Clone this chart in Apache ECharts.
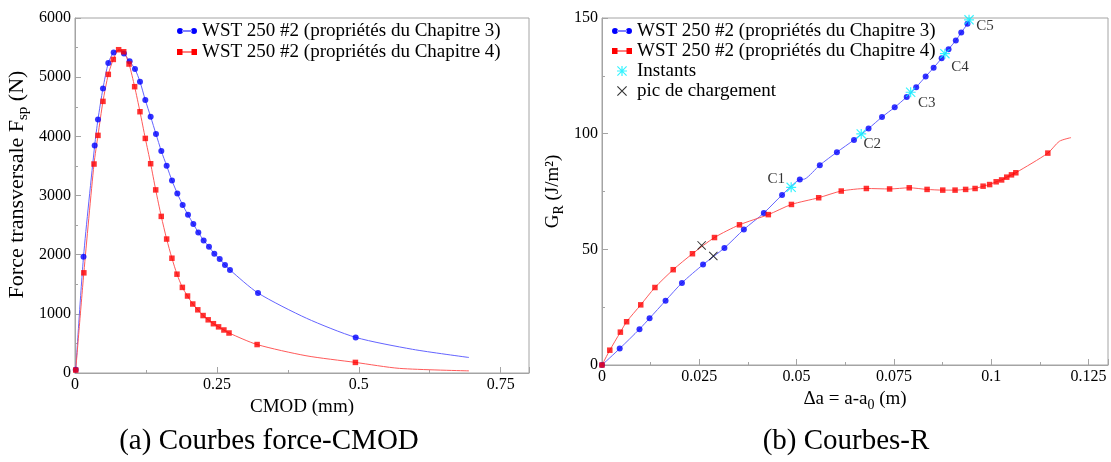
<!DOCTYPE html>
<html>
<head>
<meta charset="utf-8">
<script src="https://cdn.jsdelivr.net/npm/echarts@6/dist/echarts.min.js"></script>
<style>
html,body{margin:0;padding:0;background:#fff;}
#c{width:1111px;height:462px;}
</style>
</head>
<body>
<div id="c"></div>
<script>
// ---------- DATA ----------
const nameCh3 = 'WST 250 #2 (propriétés du Chapitre 3)';
const nameCh4 = 'WST 250 #2 (propriétés du Chapitre 4)';

// (a) Force - CMOD, marked points
const cmodCh3 = [0.0013, 0.0150, 0.0347, 0.0405, 0.0493, 0.0587, 0.0681, 0.0863, 0.0963, 0.1057, 0.1145, 0.1239, 0.1333, 0.1427, 0.1521, 0.1615, 0.1709, 0.1803, 0.1897, 0.1991, 0.2085, 0.2173, 0.2267, 0.2361, 0.2455, 0.2550, 0.2643, 0.2731, 0.3225, 0.4946];
const forceCh3 = [56, 1963, 3847, 4286, 4810, 5239, 5419, 5402, 5267, 5137, 4923, 4613, 4331, 4039, 3751, 3503, 3252, 3035, 2839, 2675, 2518, 2376, 2241, 2134, 2016, 1927, 1825, 1741, 1352, 602];
// curve points between markers (no marker drawn)
const cmodCh3Line = [0.078, 0.408, 0.595, 0.6943];
const forceCh3Line = [5452, 925, 400, 262];

const cmodCh4 = [0.0013, 0.0156, 0.0335, 0.0405, 0.0493, 0.0587, 0.0675, 0.0769, 0.0858, 0.0952, 0.1051, 0.1145, 0.1239, 0.1333, 0.1422, 0.1520, 0.1615, 0.1708, 0.1797, 0.1892, 0.1983, 0.2075, 0.2164, 0.2257, 0.2347, 0.2439, 0.2530, 0.2624, 0.2714, 0.3209, 0.4941];
const forceCh4 = [50, 1693, 3532, 4016, 4591, 5047, 5300, 5464, 5430, 5222, 4839, 4416, 3965, 3537, 3095, 2647, 2264, 1940, 1670, 1447, 1301, 1166, 1068, 971, 899, 833, 780, 727, 676, 481, 179];
const cmodCh4Line = [0.407, 0.5717, 0.6943];
const forceCh4Line = [292, 78, 36];

// (b) R-curves, marked points
const daCh3 = [0, 0.00455, 0.00963, 0.01222, 0.01633, 0.02054, 0.02596, 0.03145, 0.03645, 0.04158, 0.04626, 0.05082, 0.05596, 0.06035, 0.06474, 0.06848, 0.07194, 0.0752, 0.07829, 0.08072, 0.08315, 0.0852, 0.08726, 0.08903, 0.0909, 0.0923, 0.09389];
const grCh3 = [0, 7.1, 15.5, 20.2, 27.8, 35.5, 43.4, 50.6, 58.6, 65.7, 73.5, 80.2, 86.4, 92.0, 97.3, 102.2, 107.2, 111.4, 115.9, 120.1, 124.7, 128.5, 132.6, 136.5, 140.3, 143.7, 147.5];
const daCh3Line = [0.0521, 0.0945];
const grCh3Line = [80.4, 149.4];

const daCh4 = [0, 0.00200, 0.00472, 0.00633, 0.00995, 0.01360, 0.01829, 0.02324, 0.02890, 0.03532, 0.04273, 0.04867, 0.05567, 0.06147, 0.06792, 0.07389, 0.07894, 0.08352, 0.08754, 0.09071, 0.09342, 0.09585, 0.09791, 0.09959, 0.10127, 0.10267, 0.10398, 0.1052, 0.10632, 0.11454];
const grCh4 = [0, 6.4, 14.2, 18.7, 26.0, 33.5, 41.2, 48.1, 55.1, 60.6, 65.0, 69.4, 72.3, 75.2, 76.3, 76.1, 76.6, 75.9, 75.6, 75.6, 75.9, 76.3, 77.3, 78.0, 79.2, 80.0, 81.2, 82.2, 83.1, 91.6];
const daCh4Line = [0.1175, 0.1205];
const grCh4Line = [96.7, 98.3];

const instantLabels = ['C1', 'C2', 'C3', 'C4', 'C5'];
const instantDa = [0.0486, 0.0666, 0.0793, 0.0881, 0.0943];
const instantGr = [76.8, 99.9, 117.9, 134.6, 149.2];

const peakDa = [0.0256, 0.0286];
const peakGr = [51.7, 47.1];

const xTicksA = [0, 0.25, 0.5, 0.75];
const yTicksA = [0, 1000, 2000, 3000, 4000, 5000, 6000];
const xTicksB = [0, 0.025, 0.05, 0.075, 0.1, 0.125];
const yTicksB = [0, 50, 100, 150];

// ---------- helpers ----------
const pairs = (xs, ys) => xs.map((x, i) => [x, ys[i]]);
const curve = (xs, ys, xe, ye) => pairs(xs, ys).concat(pairs(xe, ye)).sort((a, b) => a[0] - b[0]);

// styles (not data)
const labelOffsets = [[-15, -8], [11, 10], [16, 11], [15, 13], [16, 6]];
const FONT = 'Liberation Serif';
const AX = '#a4a4a4';
const BLUE = '#0000ff', BLUE_L = '#6464ff', RED = '#ff0000', RED_L = '#ff5a5a';

const iconCircles = 'path://M0,3a3,3 0 1,0 6,0a3,3 0 1,0 -6,0Z M14,3a3,3 0 1,0 6,0a3,3 0 1,0 -6,0Z M5,2.5L15,2.5L15,3.5L5,3.5Z';
const iconSquares = 'path://M0,0L5.5,0L5.5,6L0,6Z M14.5,0L20,0L20,6L14.5,6Z M5,2.5L15,2.5L15,3.5L5,3.5Z';
const asterisk = 'path://M4.4,0L5.6,0L5.6,10L4.4,10Z M0,4.4L10,4.4L10,5.6L0,5.6Z M0,0.8L0.8,0L10,9.2L9.2,10Z M9.2,0L10,0.8L0.8,10L0,9.2Z';
const cross = 'path://M0,0.8L0.8,0L10,9.2L9.2,10Z M9.2,0L10,0.8L0.8,10L0,9.2Z';

function valueAxis(min, max, interval, extra) {
  return Object.assign({
    type: 'value', min: min, max: max, interval: interval,
    axisLine: { show: true, lineStyle: { color: AX, width: 1 } },
    axisTick: { show: true, inside: true, length: 6, lineStyle: { color: AX } },
    minorTick: { show: true, splitNumber: 2, length: 3, lineStyle: { color: AX } },
    splitLine: { show: false },
    axisLabel: { color: '#000', fontFamily: FONT, fontSize: 16, margin: 4, showMaxLabel: true,
      formatter: v => String(+(+v).toFixed(4)) }
  }, extra);
}

const lineCommon = { showSymbol: false, silent: true, smooth: 0.25, z: 2 };

const chart = echarts.init(document.getElementById('c'), null, { renderer: 'canvas' });

const option = {
  animation: false,
  backgroundColor: '#fff',
  grid: [
    { left: 75, top: 18, width: 454, height: 355, show: true, borderColor: AX, borderWidth: 1 },
    { left: 602, top: 18, width: 506, height: 347, show: true, borderColor: AX, borderWidth: 1 }
  ],
  xAxis: [
    valueAxis(0, 0.8, xTicksA[1] - xTicksA[0], {
      gridIndex: 0, name: 'CMOD (mm)', nameLocation: 'middle', nameGap: 12,
      nameTextStyle: { color: '#000', fontFamily: FONT, fontSize: 19, verticalAlign: 'top' },
      axisLabel: { color: '#000', fontFamily: FONT, fontSize: 16, margin: 4, showMaxLabel: false,
        formatter: v => String(+(+v).toFixed(4)) }
    }),
    valueAxis(0, 0.13, xTicksB[1] - xTicksB[0], {
      gridIndex: 1, name: 'Δa = a-a{s|0} (m)', nameLocation: 'middle', nameGap: 14,
      nameTextStyle: { color: '#000', fontFamily: FONT, fontSize: 19, verticalAlign: 'top',
        rich: { s: { fontFamily: FONT, fontSize: 14, color: '#000', padding: [12, 0, 0, 0] } } },
      axisLabel: { color: '#000', fontFamily: FONT, fontSize: 16, margin: 4, showMaxLabel: false,
        formatter: v => String(+(+v).toFixed(4)) }
    })
  ],
  yAxis: [
    valueAxis(yTicksA[0], yTicksA[yTicksA.length - 1], yTicksA[1] - yTicksA[0], {
      gridIndex: 0, name: 'Force transversale F{s|sp} (N)', nameLocation: 'middle', nameGap: 44,
      nameTextStyle: { color: '#000', fontFamily: FONT, fontSize: 22, padding: [0, 0, 0, 22],
        rich: { s: { fontFamily: FONT, fontSize: 15, color: '#000', padding: [12, 0, 0, 0] } } }
    }),
    valueAxis(yTicksB[0], yTicksB[yTicksB.length - 1], yTicksB[1] - yTicksB[0], {
      gridIndex: 1, name: 'G{s|R} (J/m²)', nameLocation: 'middle', nameGap: 36,
      nameTextStyle: { color: '#000', fontFamily: FONT, fontSize: 19,
        rich: { s: { fontFamily: FONT, fontSize: 14, color: '#000', padding: [12, 0, 0, 0] } } }
    })
  ],
  legend: [
    {
      left: 177, top: 21, orient: 'vertical', padding: 0, itemGap: 1, itemWidth: 20, itemHeight: 10,
      textStyle: { color: '#000', fontFamily: FONT, fontSize: 19, lineHeight: 20 },
      selectedMode: false,
      data: [{ name: nameCh3, icon: iconCircles }, { name: nameCh4, icon: iconSquares }]
    },
    {
      left: 612, top: 21, orient: 'vertical', padding: 0, itemGap: 0, itemWidth: 20, itemHeight: 10,
      textStyle: { color: '#000', fontFamily: FONT, fontSize: 19, lineHeight: 20 },
      selectedMode: false,
      data: [{ name: nameCh3, icon: iconCircles }, { name: nameCh4, icon: iconSquares },
             { name: 'Instants', icon: asterisk }, { name: 'pic de chargement', icon: cross }]
    }
  ],
  graphic: [
    { type: 'text', x: 269, y: 441, style: { text: '(a) Courbes force-CMOD', fontFamily: FONT, fontSize: 29, fill: '#000', align: 'center', verticalAlign: 'middle' } },
    { type: 'text', x: 846, y: 441, style: { text: '(b) Courbes-R', fontFamily: FONT, fontSize: 29, fill: '#000', align: 'center', verticalAlign: 'middle' } }
  ],
  series: [
    // (a)
    Object.assign({ name: nameCh3, type: 'line', xAxisIndex: 0, yAxisIndex: 0,
      data: curve(cmodCh3, forceCh3, cmodCh3Line, forceCh3Line),
      lineStyle: { color: BLUE_L, width: 1 }, itemStyle: { color: BLUE } }, lineCommon),
    { name: nameCh3, type: 'scatter', xAxisIndex: 0, yAxisIndex: 0, symbol: 'circle', symbolSize: 6,
      data: pairs(cmodCh3, forceCh3), itemStyle: { color: BLUE }, z: 3 },
    Object.assign({ name: nameCh4, type: 'line', xAxisIndex: 0, yAxisIndex: 0,
      data: curve(cmodCh4, forceCh4, cmodCh4Line, forceCh4Line),
      lineStyle: { color: RED_L, width: 1 }, itemStyle: { color: RED } }, lineCommon),
    { name: nameCh4, type: 'scatter', xAxisIndex: 0, yAxisIndex: 0, symbol: 'rect', symbolSize: 5.5,
      data: pairs(cmodCh4, forceCh4), itemStyle: { color: RED }, z: 3 },
    // (b)
    Object.assign({ name: nameCh3, type: 'line', xAxisIndex: 1, yAxisIndex: 1,
      data: curve(daCh3, grCh3, daCh3Line, grCh3Line),
      lineStyle: { color: BLUE_L, width: 1 }, itemStyle: { color: BLUE } }, lineCommon),
    { name: nameCh3, type: 'scatter', xAxisIndex: 1, yAxisIndex: 1, symbol: 'circle', symbolSize: 6,
      data: pairs(daCh3, grCh3), itemStyle: { color: BLUE }, z: 3 },
    Object.assign({ name: nameCh4, type: 'line', xAxisIndex: 1, yAxisIndex: 1,
      data: curve(daCh4, grCh4, daCh4Line, grCh4Line),
      lineStyle: { color: RED_L, width: 1 }, itemStyle: { color: RED } }, lineCommon),
    { name: nameCh4, type: 'scatter', xAxisIndex: 1, yAxisIndex: 1, symbol: 'rect', symbolSize: 5.5,
      data: pairs(daCh4, grCh4), itemStyle: { color: RED }, z: 3 },
    { name: 'Instants', type: 'scatter', xAxisIndex: 1, yAxisIndex: 1, symbol: asterisk, symbolSize: 10,
      itemStyle: { color: '#00f0ff' }, z: 4,
      data: instantDa.map((x, i) => ({ value: [x, instantGr[i]],
        label: { show: true, formatter: instantLabels[i], offset: labelOffsets[i], position: 'inside',
          color: '#000', fontFamily: FONT, fontSize: 15 } })) },
    { name: 'pic de chargement', type: 'scatter', xAxisIndex: 1, yAxisIndex: 1, symbol: cross, symbolSize: 9,
      itemStyle: { color: '#000' }, z: 4, data: pairs(peakDa, peakGr) }
  ]
};
chart.setOption(option);
</script>
</body>
</html>
